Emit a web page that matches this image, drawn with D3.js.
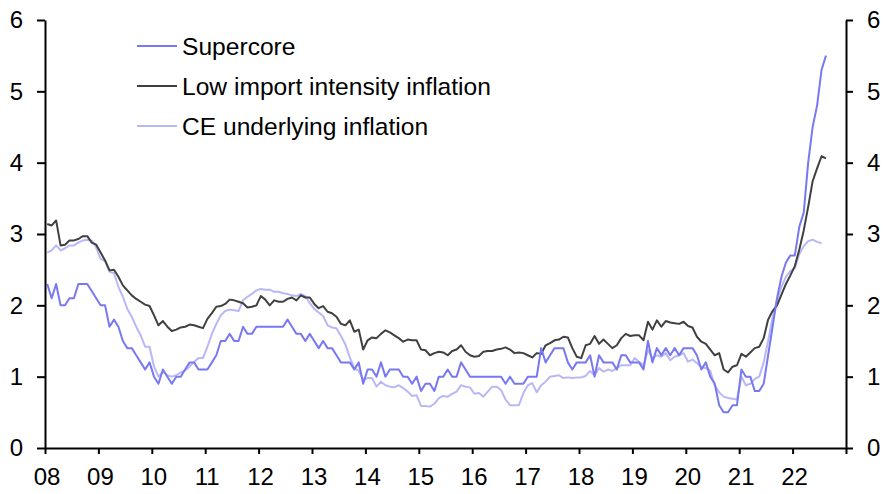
<!DOCTYPE html>
<html>
<head>
<meta charset="utf-8">
<script src="https://cdn.jsdelivr.net/npm/d3@7"></script>
<style>
  html, body { margin: 0; padding: 0; background: #fff; }
  svg text { font-family: "Liberation Sans", Arial, sans-serif; font-size: 24px; fill: #000; }
</style>
</head>
<body>
<div id="chart"></div>
<script>
// monthly, Jan 2008 onwards (% y/y)
var supercore = [
  2.3, 2.1, 2.3, 2.0, 2.0, 2.1, 2.1, 2.3, 2.3, 2.3, 2.2, 2.1,
  2.0, 2.0, 1.7, 1.8, 1.7, 1.5, 1.4, 1.4, 1.3, 1.2, 1.1, 1.2,
  1.0, 0.9, 1.1, 1.0, 0.9, 1.0, 1.0, 1.1, 1.2, 1.2, 1.1, 1.1,
  1.1, 1.2, 1.3, 1.5, 1.5, 1.6, 1.5, 1.5, 1.7, 1.6, 1.6, 1.7,
  1.7, 1.7, 1.7, 1.7, 1.7, 1.7, 1.8, 1.7, 1.6, 1.6, 1.5, 1.6,
  1.5, 1.4, 1.5, 1.4, 1.4, 1.3, 1.2, 1.2, 1.2, 1.1, 1.2, 0.9,
  1.1, 1.1, 1.0, 1.2, 1.0, 1.1, 1.1, 1.1, 1.0, 1.0, 0.9, 1.0,
  0.8, 0.9, 0.9, 0.8, 1.0, 1.0, 1.1, 1.0, 1.0, 1.2, 1.1, 1.0,
  1.0, 1.0, 1.0, 1.0, 1.0, 1.0, 1.0, 0.9, 1.0, 0.9, 0.9, 0.9,
  1.0, 1.0, 1.0, 1.4, 1.2, 1.3, 1.4, 1.4, 1.4, 1.2, 1.1, 1.2,
  1.2, 1.2, 1.3, 1.0, 1.3, 1.2, 1.2, 1.2, 1.1, 1.3, 1.3, 1.2,
  1.2, 1.2, 1.1, 1.5, 1.2, 1.4, 1.3, 1.4, 1.3, 1.4, 1.3, 1.4,
  1.4, 1.4, 1.3, 1.1, 1.2, 1.0, 0.9, 0.6, 0.5, 0.5, 0.6, 0.6,
  1.1, 1.0, 1.0, 0.8, 0.8, 0.9, 1.3, 1.7, 2.1, 2.4, 2.6, 2.7,
  2.7, 3.1, 3.3, 4.0, 4.5, 4.8, 5.3, 5.5
];
var lowImport = [
  3.14, 3.12, 3.19, 2.84, 2.85, 2.91, 2.91, 2.93, 2.97, 2.97, 2.88, 2.85,
  2.74, 2.63, 2.49, 2.50, 2.40, 2.28, 2.21, 2.14, 2.09, 2.05, 2.01, 1.99,
  1.86, 1.72, 1.78, 1.70, 1.64, 1.66, 1.69, 1.70, 1.73, 1.72, 1.70, 1.68,
  1.81, 1.89, 1.98, 1.99, 2.02, 2.08, 2.07, 2.05, 2.03, 1.97, 1.98, 2.00,
  2.13, 2.08, 2.00, 2.07, 2.05, 2.05, 2.09, 2.11, 2.07, 2.14, 2.11, 2.11,
  2.02, 1.96, 1.99, 1.91, 1.89, 1.84, 1.74, 1.72, 1.79, 1.63, 1.66, 1.38,
  1.51, 1.55, 1.54, 1.60, 1.65, 1.62, 1.58, 1.54, 1.49, 1.52, 1.51, 1.51,
  1.38, 1.37, 1.30, 1.33, 1.35, 1.34, 1.30, 1.36, 1.38, 1.44, 1.35, 1.30,
  1.28, 1.29, 1.35, 1.36, 1.36, 1.38, 1.39, 1.41, 1.38, 1.33, 1.34, 1.33,
  1.30, 1.27, 1.33, 1.32, 1.44, 1.47, 1.51, 1.52, 1.56, 1.55, 1.40, 1.28,
  1.26, 1.44, 1.46, 1.57, 1.46, 1.52, 1.46, 1.40, 1.44, 1.54, 1.60, 1.57,
  1.58, 1.58, 1.51, 1.77, 1.66, 1.79, 1.70, 1.78, 1.76, 1.75, 1.74, 1.77,
  1.71, 1.69, 1.56, 1.49, 1.46, 1.38, 1.30, 1.33, 1.10, 1.06, 1.14, 1.16,
  1.32, 1.28, 1.34, 1.40, 1.42, 1.54, 1.80, 1.92, 2.00, 2.15, 2.30, 2.42,
  2.55, 2.78, 3.05, 3.38, 3.74, 3.92, 4.09, 4.06
];
var ceUnderlying = [
  2.74, 2.77, 2.84, 2.77, 2.80, 2.84, 2.84, 2.88, 2.91, 2.92, 2.91, 2.81,
  2.65, 2.62, 2.47, 2.45, 2.26, 2.12, 1.95, 1.84, 1.70, 1.58, 1.42, 1.42,
  1.14, 1.00, 1.07, 1.02, 1.00, 1.02, 1.06, 1.09, 1.14, 1.21, 1.26, 1.26,
  1.42, 1.60, 1.74, 1.86, 1.92, 1.94, 1.93, 1.92, 2.07, 2.12, 2.16, 2.21,
  2.23, 2.22, 2.22, 2.19, 2.19, 2.17, 2.16, 2.14, 2.13, 2.16, 2.13, 2.03,
  1.95, 1.90, 1.85, 1.72, 1.69, 1.68, 1.57, 1.45, 1.27, 1.12, 1.08, 0.96,
  0.98, 0.98, 0.86, 0.93, 0.88, 0.86, 0.85, 0.88, 0.84, 0.79, 0.73, 0.74,
  0.59, 0.59, 0.58, 0.62, 0.70, 0.73, 0.72, 0.76, 0.79, 0.88, 0.86, 0.85,
  0.76, 0.77, 0.72, 0.79, 0.86, 0.86, 0.81, 0.68, 0.60, 0.60, 0.60, 0.77,
  0.88, 0.91, 0.78, 0.88, 0.93, 1.00, 1.01, 1.02, 0.98, 0.99, 0.98, 0.99,
  0.99, 1.01, 1.08, 1.02, 1.12, 1.07, 1.10, 1.08, 1.12, 1.16, 1.16, 1.16,
  1.26, 1.21, 1.16, 1.37, 1.26, 1.30, 1.28, 1.33, 1.23, 1.28, 1.30, 1.33,
  1.21, 1.24, 1.19, 1.13, 1.12, 1.08, 0.88, 0.78, 0.72, 0.70, 0.69, 0.68,
  1.00, 0.88, 0.90, 0.97, 1.00, 1.20, 1.50, 1.83, 2.07, 2.26, 2.40, 2.48,
  2.52, 2.72, 2.83, 2.90, 2.92, 2.89, 2.87
];
var startYear = 2008;
var years = d3.range(2008, 2024);
var yTicks = [0, 1, 2, 3, 4, 5, 6];

var seriesNames = ['Supercore', 'Low import intensity inflation', 'CE underlying inflation'];
var seriesData = [supercore, lowImport, ceUnderlying];
var seriesColors = ['#7878f2', '#404040', '#b8b8f8'];

var width = 884, height = 494;
var margin = {top: 20, left: 45, right: 38, bottom: 46};

var svg = d3.select('#chart')
    .append('svg')
    .attr('width', width)
    .attr('height', height);

var x = d3.scaleLinear()
    .domain([2008, 2023])
    .range([margin.left, width - margin.right]);
var y = d3.scaleLinear()
    .domain([0, 6])
    .range([height - margin.bottom, margin.top]);

// month i sits in the middle of its month
var line = d3.line()
    .x(function(d, i){ return x(startYear + (i + 0.5) / 12); })
    .y(function(d){ return y(d); });

// draw the light one first so the darker lines sit on top
var order = [2, 1, 0];
order.forEach(function(k){
    svg.append('path')
        .datum(seriesData[k])
        .attr('fill', 'none')
        .attr('stroke', seriesColors[k])
        .attr('stroke-width', 2)
        .attr('stroke-linejoin', 'round')
        .attr('d', line);
});

var xAxis = svg.append('g')
    .attr('transform', 'translate(0,' + y(0) + ')')
    .call(d3.axisBottom(x)
        .tickValues(years)
        .tickSize(6)
        .tickSizeOuter(0)
        .tickPadding(14)
        .tickFormat(function(d){ return d < 2023 ? String(d).slice(2) : ''; }));
xAxis.selectAll('text').attr('dx', 1.5);

var yFormat = d3.format('d');
var leftAxis = svg.append('g')
    .attr('transform', 'translate(' + x(2008) + ',0)')
    .call(d3.axisLeft(y).tickValues(yTicks).tickFormat(yFormat)
        .tickSize(8).tickSizeOuter(0).tickPadding(14));

var rightAxis = svg.append('g')
    .attr('transform', 'translate(' + x(2023) + ',0)')
    .call(d3.axisRight(y).tickValues(yTicks).tickFormat(yFormat)
        .tickSize(7).tickSizeOuter(0).tickPadding(14));

[xAxis, leftAxis, rightAxis].forEach(function(g){
    g.select('.domain').attr('stroke', '#000').attr('stroke-width', 2);
    g.selectAll('.tick line').attr('stroke', '#000').attr('stroke-width', 2);
    g.selectAll('text').attr('font-size', 24).attr('font-family', '"Liberation Sans", Arial, sans-serif');
});

// legend
var legend = svg.append('g');
seriesNames.forEach(function(name, k){
    var ly = 46 + k * 40;
    legend.append('line')
        .attr('x1', 137).attr('x2', 177)
        .attr('y1', ly).attr('y2', ly)
        .attr('stroke', seriesColors[k])
        .attr('stroke-width', 2);
    legend.append('text')
        .attr('x', 182)
        .attr('y', ly + 8.8)
        .style('font-size', '24.6px')
        .text(name);
});
</script>
</body>
</html>
